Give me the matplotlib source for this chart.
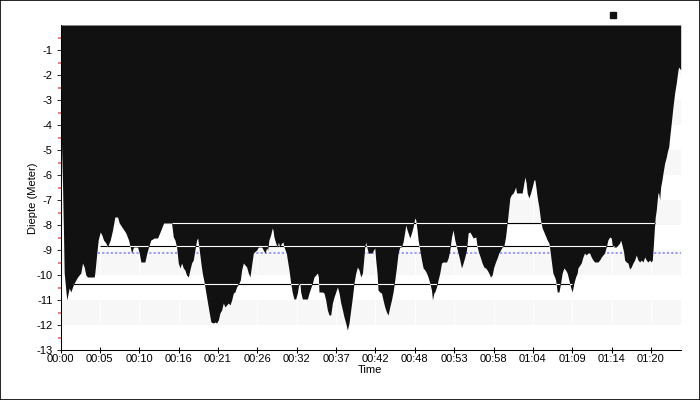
import matplotlib
matplotlib.use("Agg")
import matplotlib.pyplot as plt
from matplotlib.lines import Line2D
from matplotlib.patches import Rectangle

plt.rcParams['font.family'] = ['Liberation Sans', 'DejaVu Sans']
plt.rcParams['font.size'] = 8

# ---- data: dive profile (time in minutes, depth in metres) ----
time_min = [0.0, 0.07, 0.14, 0.27, 0.41, 0.50, 0.85, 1.18, 1.40, 1.63, 1.86, 2.31, 2.75, 2.98, 3.21, 3.43,
            3.66, 4.57, 4.65, 4.92, 5.11, 5.38, 5.60, 5.83, 6.14, 6.37, 6.74, 7.05, 7.36, 7.73, 7.96, 8.41,
            8.85, 9.22, 9.45, 9.63, 9.90, 10.44, 10.67, 10.89, 11.43, 11.70, 11.93, 12.24, 12.71, 13.15, 13.60, 13.97,
            15.05, 15.28, 15.50, 15.73, 15.96, 16.18, 16.41, 16.64, 16.85, 17.08, 17.32, 17.53, 17.76, 17.99, 18.21, 18.44,
            18.58, 18.75, 19.02, 19.21, 19.48, 19.70, 19.93, 20.16, 20.38, 20.71, 20.92, 21.15, 21.38, 21.60, 21.83, 22.06,
            22.28, 22.74, 22.96, 23.19, 23.42, 23.63, 23.86, 24.18, 24.37, 24.54, 24.77, 25.22, 25.45, 25.67, 25.80, 25.99,
            26.13, 26.58, 26.81, 27.25, 27.48, 27.70, 27.93, 28.07, 28.24, 28.47, 28.70, 28.79, 28.92, 29.15, 29.38, 29.52,
            29.69, 29.97, 30.14, 30.28, 30.60, 30.74, 30.96, 31.19, 31.42, 31.63, 31.86, 32.09, 32.31, 32.45, 32.54, 32.77,
            33.45, 33.67, 33.90, 34.13, 34.35, 34.58, 34.81, 34.94, 35.02, 35.48, 35.70, 35.93, 36.16, 36.38, 36.61, 36.84,
            37.06, 37.29, 37.52, 37.74, 37.97, 38.20, 38.41, 38.64, 38.87, 39.09, 39.32, 39.55, 39.77, 40.00, 40.23, 40.45,
            40.68, 40.91, 41.04, 41.22, 41.36, 41.49, 41.72, 42.17, 42.58, 42.71, 42.89, 43.02, 43.25, 43.49, 43.70, 43.93,
            44.16, 44.38, 44.61, 44.84, 45.06, 45.29, 45.52, 45.74, 45.97, 46.20, 46.41, 46.64, 46.78, 46.96, 47.19, 47.32,
            47.55, 47.77, 48.00, 48.14, 48.31, 48.45, 48.68, 48.91, 49.13, 49.36, 49.59, 49.80, 50.03, 50.26, 50.40, 50.58,
            50.71, 50.94, 51.16, 51.39, 51.62, 51.84, 52.30, 52.52, 52.75, 52.98, 53.19, 53.42, 53.65, 53.87, 54.10, 54.33,
            54.55, 54.78, 55.01, 55.23, 55.46, 55.69, 55.91, 56.27, 56.45, 56.68, 56.91, 57.12, 57.36, 57.59, 57.80, 58.03,
            58.26, 58.48, 58.71, 58.94, 59.16, 59.39, 59.62, 59.84, 60.07, 60.30, 60.52, 60.75, 60.88, 61.06, 61.33, 61.52,
            61.66, 61.79, 62.55, 62.78, 62.92, 63.09, 63.23, 63.46, 63.69, 63.91, 64.14, 64.27, 64.41, 64.58, 64.81, 65.04,
            65.26, 65.49, 65.94, 66.17, 66.31, 66.48, 66.71, 66.94, 67.08, 67.30, 67.53, 67.76, 67.97, 68.20, 68.43, 68.65,
            68.88, 69.11, 69.33, 69.56, 69.79, 70.01, 70.10, 70.55, 70.78, 71.01, 71.23, 71.46, 71.69, 71.91, 72.14, 72.37,
            72.81, 73.05, 73.27, 73.49, 73.72, 73.94, 74.17, 74.40, 74.62, 74.75, 74.98, 75.29, 75.53, 75.76, 75.89, 76.07,
            76.30, 76.43, 76.65, 76.88, 77.11, 77.33, 77.56, 77.79, 78.01, 78.24, 78.47, 78.69, 78.92, 79.15, 79.36, 79.59,
            79.82, 80.04, 80.18, 80.31, 80.45, 80.58, 80.72, 80.85, 80.95, 81.04, 81.18, 81.31, 81.49, 81.63, 81.86, 82.08,
            82.21, 82.40, 82.54, 82.75, 82.98, 83.21, 83.43, 83.66, 83.76, 84.03]
depth_m = [0.0, -3.52, -4.80, -6.32, -8.40, -9.92, -11.00, -10.52, -10.68, -10.48, -10.32, -10.08, -9.92, -9.52, -9.68, -10.00,
           -10.08, -10.08, -9.92, -9.12, -8.60, -8.28, -8.40, -8.60, -8.72, -8.88, -8.60, -8.20, -7.68, -7.68, -7.92, -8.12,
           -8.32, -8.60, -8.88, -9.12, -8.88, -8.88, -9.12, -9.48, -9.48, -9.12, -8.88, -8.60, -8.52, -8.52, -8.20, -7.92,
           -7.92, -8.48, -8.60, -8.88, -9.52, -9.72, -9.52, -9.72, -9.80, -10.00, -10.08, -9.80, -9.52, -9.40, -9.00, -8.60,
           -8.52, -8.88, -9.52, -9.92, -10.32, -10.72, -11.12, -11.52, -11.88, -11.92, -11.88, -11.92, -11.80, -11.52, -11.40, -11.12,
           -11.28, -11.12, -11.20, -11.00, -10.72, -10.68, -10.48, -10.32, -10.20, -9.80, -9.52, -9.68, -9.92, -10.08, -9.80, -9.40,
           -9.12, -9.00, -8.88, -8.88, -9.00, -9.12, -8.92, -9.00, -8.60, -8.40, -8.12, -8.20, -8.48, -8.72, -8.88, -8.68,
           -8.88, -8.72, -8.68, -8.88, -9.12, -9.40, -9.80, -10.32, -10.72, -10.96, -10.96, -10.72, -10.32, -10.36, -10.68, -10.96,
           -10.96, -10.72, -10.52, -10.32, -10.08, -10.00, -9.92, -10.08, -10.68, -10.68, -10.72, -11.00, -11.40, -11.60, -11.60, -11.12,
           -10.88, -10.68, -10.48, -10.72, -11.12, -11.40, -11.68, -11.92, -12.20, -11.92, -11.40, -10.88, -10.32, -9.92, -9.68, -9.80,
           -10.08, -9.92, -9.52, -8.88, -8.68, -8.88, -9.12, -9.12, -8.92, -9.40, -9.92, -10.60, -10.68, -10.72, -11.00, -11.28,
           -11.48, -11.60, -11.28, -11.00, -10.68, -10.20, -9.68, -9.12, -8.88, -8.88, -8.68, -8.28, -8.00, -8.20, -8.40, -8.52,
           -8.32, -8.08, -7.72, -7.80, -8.20, -8.60, -9.00, -9.40, -9.72, -9.80, -9.92, -10.08, -10.32, -10.60, -11.00, -10.72,
           -10.68, -10.48, -10.20, -9.92, -9.52, -9.48, -9.48, -9.32, -9.00, -8.48, -8.20, -8.60, -8.88, -9.12, -9.40, -9.72,
           -9.52, -9.28, -9.00, -8.32, -8.28, -8.40, -8.52, -8.48, -8.88, -9.12, -9.32, -9.52, -9.68, -9.72, -9.80, -9.92,
           -10.08, -10.00, -9.68, -9.48, -9.32, -9.12, -9.00, -8.88, -8.84, -8.48, -7.92, -7.28, -6.92, -6.80, -6.72, -6.60,
           -6.48, -6.72, -6.72, -6.32, -6.08, -6.32, -6.72, -6.92, -6.72, -6.48, -6.20, -6.20, -6.48, -6.88, -7.28, -7.80,
           -8.12, -8.28, -8.60, -8.72, -9.00, -9.40, -9.92, -10.08, -10.20, -10.68, -10.68, -10.32, -9.92, -9.72, -9.80, -9.92,
           -10.20, -10.48, -10.68, -10.32, -10.08, -9.92, -9.72, -9.52, -9.28, -9.12, -9.20, -9.12, -9.12, -9.28, -9.40, -9.48,
           -9.48, -9.40, -9.28, -9.20, -9.12, -8.88, -8.60, -8.48, -8.52, -8.80, -8.88, -8.88, -8.80, -8.72, -8.60, -8.80,
           -9.08, -9.40, -9.48, -9.52, -9.76, -9.68, -9.52, -9.40, -9.20, -9.40, -9.48, -9.40, -9.48, -9.28, -9.40, -9.48,
           -9.40, -9.48, -9.40, -8.88, -8.20, -7.68, -7.40, -7.00, -6.72, -6.72, -7.00, -6.48, -6.20, -5.92, -5.52, -5.28,
           -5.08, -4.88, -4.48, -3.92, -3.28, -2.72, -2.32, -1.80, -1.68, -1.80]

# reference lines: depth level, start time, end time (minutes)
ref_levels = [-7.93, -8.85, -10.37]
ref_start = [15.05, 5.29, 1.76]
ref_end = [80.54, 74.98, 69.29]
avg_depth = -9.1
avg_start = 5.02

x_max = 84.07
tick_pos = [0, 5.33, 10.67, 16, 21.33, 26.67, 32, 37.33, 42.67, 48, 53.33, 58.67, 64, 69.33, 74.67, 80]
tick_labels = ["00:00", "00:05", "00:10", "00:16", "00:21", "00:26", "00:32", "00:37", "00:42", "00:48",
               "00:53", "00:58", "01:04", "01:09", "01:14", "01:20"]
y_ticks = list(range(-13, 0))
band_lows = [-2, -4, -6, -8, -10, -12]

fig = plt.figure(figsize=(7, 4), dpi=100)
ax = fig.add_axes([60.5 / 700, 50 / 400, 620.5 / 700, 325 / 400])
ax.set_xlim(0, x_max)
ax.set_ylim(-13, 0)

for lo in band_lows:
    ax.axhspan(lo, lo + 1, color='#f7f7f7', lw=0, zorder=0)

for tp in tick_pos:
    ax.axvline(tp, color='white', lw=0.6, zorder=0.5)

ax.hlines(avg_depth, avg_start, x_max, colors='#7f7fff', lw=1.1,
          linestyles=[(0, (1.4, 1.4))], zorder=1)

poly = ax.fill_between(time_min, depth_m, 0, color='#111111', lw=0, zorder=2)
clip = poly.get_paths()[0]

for lvl, s, e in zip(ref_levels, ref_start, ref_end):
    ax.plot([s, e], [lvl, lvl], color='black', lw=0.8, zorder=3, solid_capstyle='butt')
    wl, = ax.plot([s, e], [lvl, lvl], color='white', lw=0.8, zorder=4, solid_capstyle='butt')
    wl.set_clip_path(clip, ax.transData)

for side in ['top', 'right']:
    ax.spines[side].set_visible(False)
for side in ['left', 'bottom']:
    ax.spines[side].set_linewidth(0.75)
    ax.spines[side].set_color('black')
    ax.spines[side].set_zorder(5)

ax.set_xticks(tick_pos)
ax.set_xticklabels(tick_labels)
ax.set_yticks(y_ticks)
ax.set_yticklabels([str(v) for v in y_ticks])
ax.set_yticks([v + 0.5 for v in range(-13, 0)], minor=True)
ax.tick_params(axis='x', direction='inout', length=4, width=0.75, pad=1.0, labelsize=8)
ax.tick_params(axis='y', which='major', direction='out', length=3, width=0.75, pad=2.5,
               labelsize=8, color='#333333')
ax.tick_params(axis='y', which='minor', direction='out', length=2, width=1.2, color='#f06060')

ax.set_xlabel('Time', fontsize=8)
ax.xaxis.set_label_coords(0.4985, -0.047)
ax.set_ylabel('Diepte (Meter)', fontsize=8)
ax.yaxis.set_label_coords(-0.037, 0.466)

fig.add_artist(Line2D([613 / 700], [1 - 15 / 400], marker='s', markersize=4.3,
                      color='#111111', linestyle='none', transform=fig.transFigure))
fig.add_artist(Rectangle((0.0007, 0.0012), 0.9986, 0.9976, transform=fig.transFigure,
                         fill=False, edgecolor='black', lw=1.2))

fig.savefig('out.png', dpi=100)
